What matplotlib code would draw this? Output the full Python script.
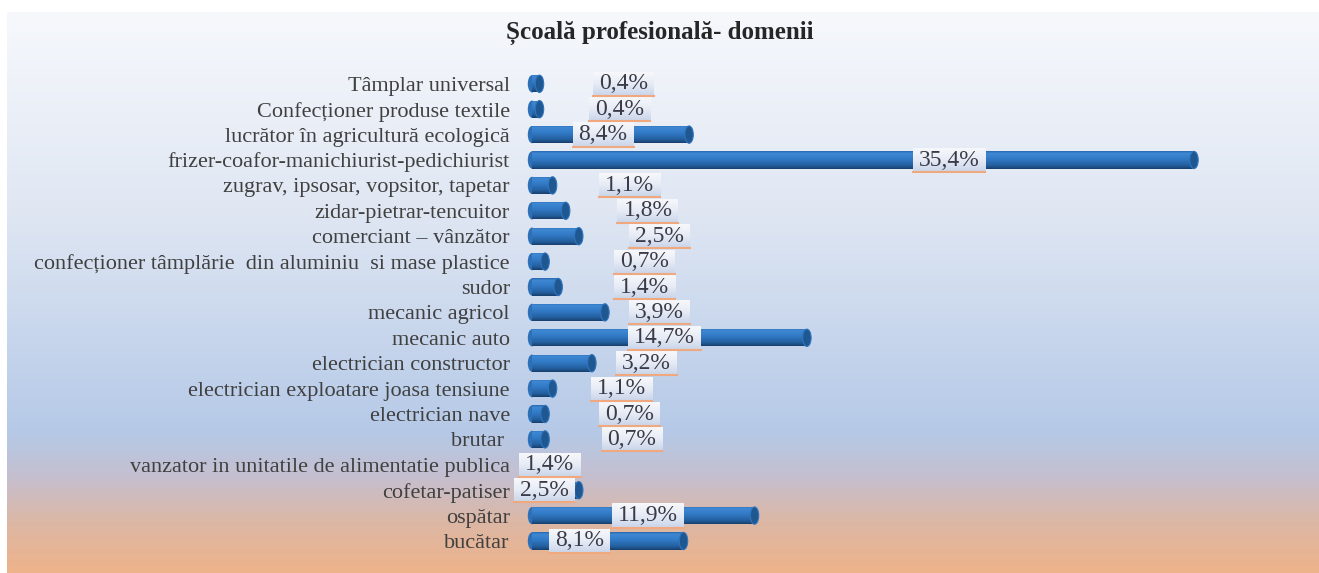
import numpy as np
import matplotlib
matplotlib.use("Agg")
import matplotlib.pyplot as plt
from matplotlib.colors import LinearSegmentedColormap
from matplotlib.patches import Ellipse
from matplotlib.lines import Line2D

plt.rcParams['font.family'] = ['Liberation Serif', 'DejaVu Serif']

# date
domenii = [
    "Tâmplar universal",
    "Confecționer produse textile",
    "lucrător în agricultură ecologică",
    "frizer-coafor-manichiurist-pedichiurist",
    "zugrav, ipsosar, vopsitor, tapetar",
    "zidar-pietrar-tencuitor",
    "comerciant – vânzător",
    "confecționer tâmplărie  din aluminiu  si mase plastice",
    "sudor",
    "mecanic agricol",
    "mecanic auto",
    "electrician constructor",
    "electrician exploatare joasa tensiune",
    "electrician nave",
    "brutar ",
    "vanzator in unitatile de alimentatie publica",
    "cofetar-patiser",
    "ospătar",
    "bucătar",
]
procente = [0.4, 0.4, 8.4, 35.4, 1.1, 1.8, 2.5, 0.7, 1.4, 3.9,
            14.7, 3.2, 1.1, 0.7, 0.7, 1.4, 2.5, 11.9, 8.1]
etichete = ["0,4%", "0,4%", "8,4%", "35,4%", "1,1%", "1,8%", "2,5%", "0,7%", "1,4%", "3,9%",
            "14,7%", "3,2%", "1,1%", "0,7%", "0,7%", "1,4%", "2,5%", "11,9%", "8,1%"]
# pozitia etichetelor (mutate manual in original)
pozitii_etichete = [4.9, 4.7, 3.8, 22.3, 5.2, 6.2, 6.8, 6.0, 6.0, 6.8,
                    7.1, 6.1, 4.8, 5.2, 5.35, 0.96, 0.64, 6.2, 2.55]

W, H = 1319, 573
fig = plt.figure(figsize=(W / 100, H / 100), dpi=100)

# fundal cu gradient
fundal = LinearSegmentedColormap.from_list("fundal", [
    (0.0, "#f6f8fc"), (0.35, "#e0e7f3"), (0.75, "#b5c9e7"),
    (0.83, "#c5bfcf"), (0.91, "#dcb7a5"), (1.0, "#eeb38a")])
ax_bg = fig.add_axes([7 / W, 0, 1 - 7 / W, (H - 12) / H], zorder=-2)
ax_bg.imshow(np.linspace(0, 1, 256).reshape(-1, 1), cmap=fundal, aspect="auto",
             extent=(0, 1, 0, 1), origin="upper")
ax_bg.axis("off")

ax = fig.add_axes([532 / W, 1 - 553.7 / H, 748 / W, 482.6 / H])
ax.set_facecolor("none")

y = np.arange(len(domenii))
h = 0.68
bare = ax.barh(y, procente, height=h, color="#2e72bb", zorder=2)

cilindru = LinearSegmentedColormap.from_list("cil", [
    (0.0, "#2a68ad"), (0.12, "#3f88d3"), (0.45, "#3179c4"),
    (0.8, "#245f9f"), (1.0, "#173f6c")])
cap_w = 0.45
for b in bare:
    x0, y0 = b.get_x(), b.get_y()
    bw, bh = b.get_width(), b.get_height()
    capat_st = Ellipse((x0, y0 + bh / 2), cap_w, bh, facecolor="#2d70b8",
                       edgecolor="none", zorder=1.9, clip_on=False)
    ax.add_patch(capat_st)
    im = ax.imshow(np.linspace(0, 1, 64).reshape(-1, 1), cmap=cilindru, aspect="auto",
                   extent=(x0, x0 + bw, y0 + bh, y0), origin="upper", zorder=2.1)
    im.set_clip_path(b)
    capat_dr = Ellipse((x0 + bw, y0 + bh / 2), cap_w, bh, facecolor="#1f5791",
                       edgecolor="#2f74bd", linewidth=0.8, zorder=2.2)
    ax.add_patch(capat_dr)

ax.set_xlim(0, 40)
ax.set_ylim(len(domenii) - 0.5, -0.5)
ax.set_yticks(y)
ax.set_yticklabels(domenii, fontsize=16, color="#404040")
ax.tick_params(axis="y", length=0, pad=16)
ax.set_xticks([])
for s in ax.spines.values():
    s.set_visible(False)

texte = []
for yi, xe, et in zip(y, pozitii_etichete, etichete):
    t = ax.text(xe, yi, et, ha="center", va="center", fontsize=17,
                color="#3a3a48", zorder=5)
    texte.append(t)

fig.text(0.5, 1 - 33 / H, "Școală profesională- domenii", ha="center", va="center",
         fontsize=18, fontweight="bold", color="#262626")

# cutiile etichetelor: gradient alb-albastru cu linie portocalie jos
fig.canvas.draw()
rend = fig.canvas.get_renderer()
cutie = LinearSegmentedColormap.from_list("cutie", ["#f7f8fb", "#e6ebf5", "#c9d5ea"])
inv = ax.transData.inverted()
for t in texte:
    bb = t.get_window_extent(rend)
    cy = (bb.y0 + bb.y1) / 2
    px0, px1 = bb.x0 - 6, bb.x1 + 6
    py0, py1 = cy - 12, cy + 12
    (dx0, dy0) = inv.transform((px0, py0))
    (dx1, dy1) = inv.transform((px1, py1))
    ax.imshow(np.linspace(0, 1, 32).reshape(-1, 1), cmap=cutie, aspect="auto",
              extent=(dx0, dx1, dy0, dy1), origin="upper", zorder=3, clip_on=False)
    ax.add_line(Line2D([dx0, dx1], [dy0, dy0], color="#f0a97e", linewidth=1.5,
                       zorder=3.5, clip_on=False))

ax.set_xlim(0, 40)
ax.set_ylim(len(domenii) - 0.5, -0.5)

plt.savefig("out.png", dpi=100)
